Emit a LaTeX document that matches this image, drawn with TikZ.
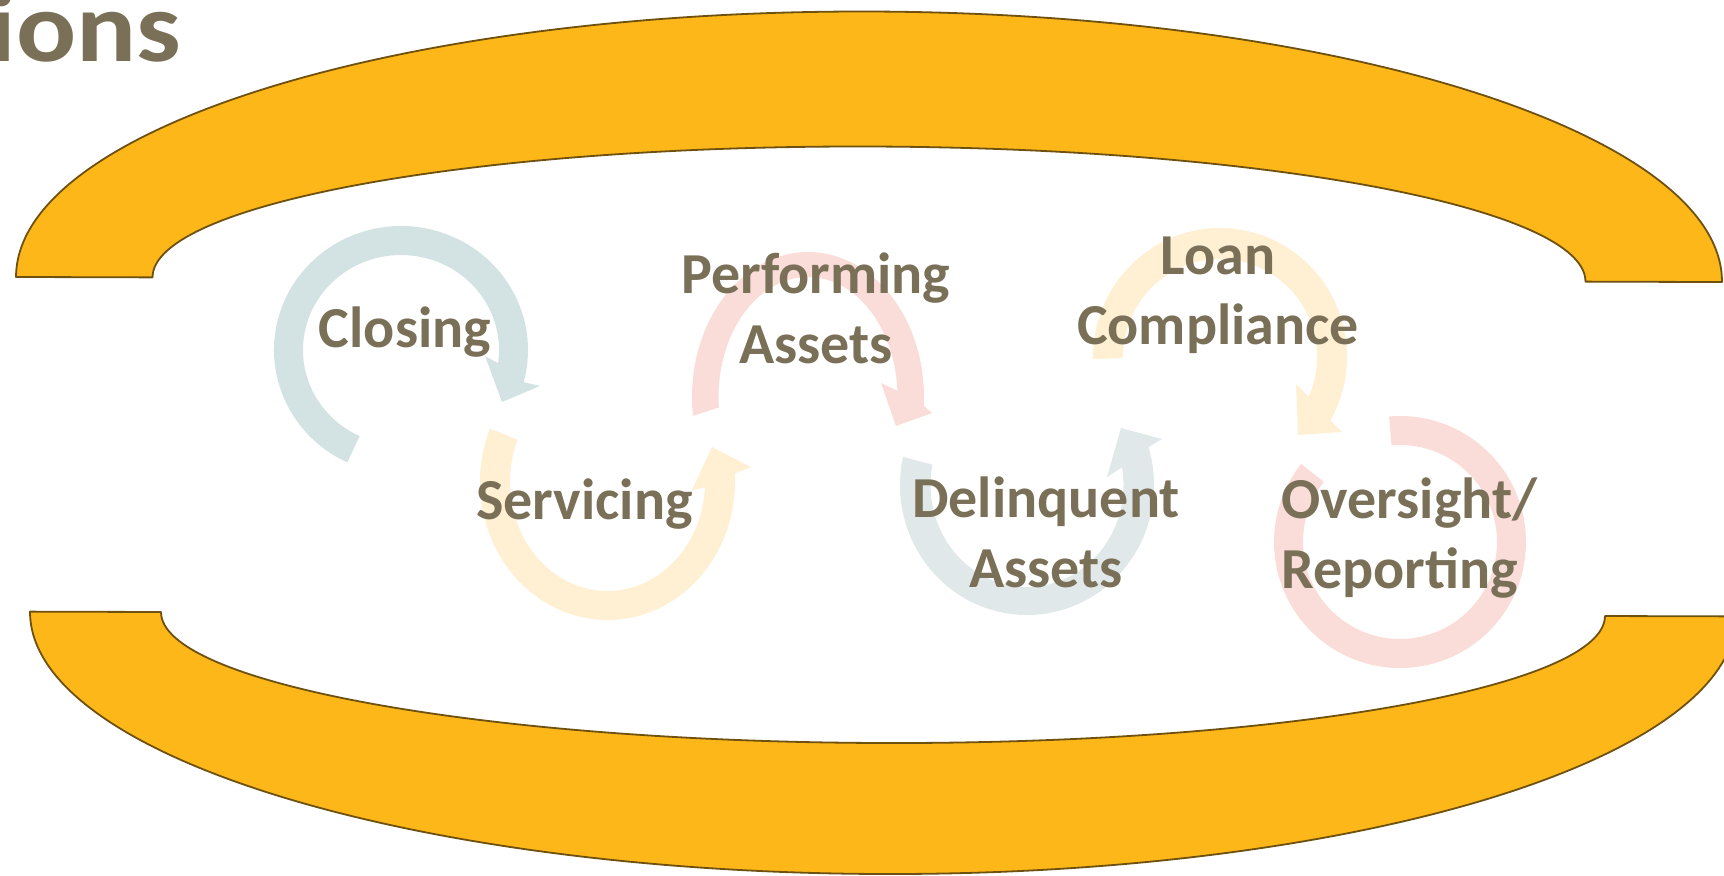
\documentclass[tikz,border=0pt]{standalone}
\usepackage{fontspec}
\setmainfont{Carlito}
\usepackage{graphicx}
\usetikzlibrary{calc}
\definecolor{orangeF}{HTML}{FDB719}
\definecolor{orangeD}{HTML}{6E500F}
\definecolor{txt}{HTML}{7A7058}
\definecolor{cBlue}{HTML}{D3E3E3}
\definecolor{cYel}{HTML}{FFF0D4}
\definecolor{cPink}{HTML}{FADDD8}
\definecolor{cGray}{HTML}{E1E8EA}
\newcommand\mytwolines[2]{\vtop{\halign{\hfil##\hfil\cr#1\cr#2\cr}}}
\newcommand\mytwolinesL[2]{\vtop{\halign{##\hfil\cr#1\cr#2\cr}}}
\tikzset{
  band/.style={fill=orangeF, draw=orangeD, line width=0.9pt, line join=round},
  lbl/.style={text=txt, font=\fontsize{29}{35}\selectfont\bfseries, inner sep=0pt, anchor=base},
  titlestyle/.style={text=txt, font=\fontsize{50}{60}\selectfont\bfseries, inner sep=0pt, anchor=base west},
}
\begin{document}
\begin{tikzpicture}[x=0.5pt,y=-0.5pt]
\useasboundingbox (0,0) rectangle (1724,875);
\clip (0,0) rectangle (1724,875);

% top block arc
\begin{scope}[rotate around={-0.17:(869,279.5)}]
\path[band] (16,279.5) arc[start angle=180,end angle=360,x radius=853,y radius=268]
  -- (1585.5,279.5) arc[start angle=360,end angle=180,x radius=716.5,y radius=133] -- cycle;
\end{scope}
% bottom block arc
\begin{scope}[rotate around={-0.16:(883,614)}]
\path[band] (30,614) arc[start angle=180,end angle=0,x radius=853,y radius=260]
  -- (1605,614) arc[start angle=0,end angle=180,x radius=722,y radius=129] -- cycle;
\end{scope}

% circular arrows
\coordinate (cClose) at (401,350);
\fill[cBlue] ($(cClose)+(115:127 and 124)$) arc[start angle=115,end angle=375,x radius=127,y radius=124]
  -- (540,386) -- (502,402) -- (485,356)
  -- ($(cClose)+(368:98 and 95)$) arc[start angle=368,end angle=115,x radius=98,y radius=95] -- cycle;

\coordinate (cServ) at (607.5,482);
\fill[cYel] ($(cServ)+(202.8:127.5 and 138)$) arc[start angle=202.8,end angle=-3.5,x radius=127.5,y radius=138]
  -- (751,467) -- (712,447) -- (692,490)
  -- ($(cServ)+(3:97.5 and 109)$) arc[start angle=3,end angle=202.8,x radius=97.5,y radius=109] -- cycle;

\coordinate (cPerf) at (808,397);
\fill[cPink] ($(cPerf)+(172.5:116 and 145)$) arc[start angle=172.5,end angle=363.5,x radius=116,y radius=145]
  -- (932,413) -- (896,426) -- (881,383)
  -- ($(cPerf)+(357:89.5 and 120)$) arc[start angle=357,end angle=175,x radius=89.5,y radius=120] -- cycle;

\coordinate (cDel) at (1027,485);
\fill[cGray] ($(cDel)+(192.5:127 and 130)$) arc[start angle=192.5,end angle=-17,x radius=127,y radius=130]
  -- (1162,439) -- (1121,428) -- (1107,477)
  -- ($(cDel)+(-10:96.5 and 102)$) arc[start angle=-10,end angle=191.5,x radius=96.5,y radius=102] -- cycle;

\coordinate (cLoan) at (1220,357);
\fill[cYel] ($(cLoan)+(179:127 and 129)$) arc[start angle=179,end angle=389.5,x radius=127,y radius=129]
  -- (1342,432) -- (1298,435) -- (1296,384)
  -- ($(cLoan)+(384:97 and 98)$) arc[start angle=384,end angle=179.5,x radius=97,y radius=98] -- cycle;

\coordinate (cOver) at (1400,542);
\fill[cPink] ($(cOver)+(265:126)$) arc[start angle=265,end angle=578.3,radius=126]
  -- ($(cOver)+(578.3:97)$) arc[start angle=578.3,end angle=265,radius=97] -- cycle;

% labels
\node[titlestyle] (title) at (-11.5,61) {\scalebox{1.12}[1]{ions}};
\node[lbl] (closing) at (405,347) {Closing};
\node[lbl] (servicing) at (584.5,519) {Servicing};
\node[lbl] (performing) at (816,293) {\mytwolines{Performing}{Assets}};
\node[lbl] (loan) at (1218,274) {\mytwolines{Loan}{Compliance}};
\node[lbl] (delinquent) at (1046,517) {\mytwolines{Delinquent}{Assets}};
\node[lbl, anchor=base west] (oversight) at (1281,518) {\mytwolinesL{Oversight/}{Reporting}};
\end{tikzpicture}
\end{document}
